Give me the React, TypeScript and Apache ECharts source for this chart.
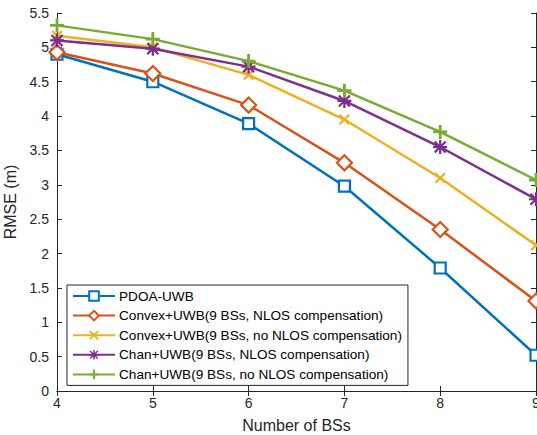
import React, { useEffect, useRef } from "react";
import * as echarts from "echarts";

const bsCounts = [4, 5, 6, 7, 8, 9];
const seriesNames = [
  "PDOA-UWB",
  "Convex+UWB(9 BSs, NLOS compensation)",
  "Convex+UWB(9 BSs, no NLOS compensation)",
  "Chan+UWB(9 BSs, NLOS compensation)",
  "Chan+UWB(9 BSs, no NLOS compensation)",
];
const pdoaUwb = [4.9, 4.5, 3.89, 2.98, 1.79, 0.52];
const convexNlos = [4.93, 4.62, 4.16, 3.32, 2.35, 1.31];
const convexNoNlos = [5.17, 5.0, 4.6, 3.95, 3.1, 2.12];
const chanNlos = [5.1, 4.98, 4.72, 4.22, 3.55, 2.79];
const chanNoNlos = [5.32, 5.12, 4.8, 4.37, 3.77, 3.07];

const colors = ["#0072BD", "#D95319", "#EDB120", "#7E2F8E", "#77AC30"];

const PLUS = "path://M4,0H6V4H10V6H6V10H4V6H0V4H4Z";
const CROSS = "path://M0,1.4L1.4,0L5,3.6L8.6,0L10,1.4L6.4,5L10,8.6L8.6,10L5,6.4L1.4,10L0,8.6L3.6,5Z";
const STAR =
  "path://M4.2,0H5.8V4.2H10V5.8H5.8V10H4.2V5.8H0V4.2H4.2Z M0.5,1.6L1.6,0.5L5,3.9L8.4,0.5L9.5,1.6L6.1,5L9.5,8.4L8.4,9.5L5,6.1L1.6,9.5L0.5,8.4L3.9,5Z";

export default function App() {
  const ref = useRef<HTMLDivElement>(null);
  useEffect(() => {
    if (!ref.current) return;
    const chart = echarts.init(ref.current, null, { renderer: "svg" });
    const allData = [pdoaUwb, convexNlos, convexNoNlos, chanNlos, chanNoNlos];
    const symbols: any[] = ["rect", "diamond", CROSS, STAR, PLUS];
    const sizes = [11, 15, 11, 14, 14];
    const hollow = [true, true, false, false, false];
    const axisColor = "#262626";
    const font = "Liberation Sans, Arial, sans-serif";
    chart.setOption({
      animation: false,
      backgroundColor: "#fff",
      textStyle: { fontFamily: font },
      grid: { left: 57, right: 1, top: 13, bottom: 44, outerBoundsMode: "none", containLabel: false },
      legend: {
        orient: "vertical",
        left: 67,
        top: 285,
        backgroundColor: "#fff",
        borderColor: axisColor,
        borderWidth: 1,
        borderRadius: 0,
        padding: [4, 6, 4, 5],
        itemGap: 5.6,
        itemWidth: 42,
        itemHeight: 12,
        textStyle: { fontSize: 13.6, color: "#000", fontFamily: font, padding: [0, 0, 0, -1] },
        data: seriesNames,
      },
      xAxis: [
        {
          type: "value",
          min: 4,
          max: 9,
          interval: 1,
          name: "Number of BSs",
          nameLocation: "middle",
          nameGap: 26,
          nameTextStyle: { fontSize: 16, color: axisColor },
          axisLine: { lineStyle: { color: axisColor } },
          axisTick: { inside: true, length: 5, lineStyle: { color: axisColor } },
          axisLabel: { fontSize: 14, color: axisColor, margin: 5 },
          splitLine: { show: false },
        },
        {
          type: "value",
          position: "top",
          min: 4,
          max: 9,
          interval: 1,
          axisLine: { show: true, lineStyle: { color: axisColor } },
          axisTick: { inside: true, length: 5, lineStyle: { color: axisColor } },
          axisLabel: { show: false },
          splitLine: { show: false },
        },
      ],
      yAxis: [
        {
          type: "value",
          min: 0,
          max: 5.5,
          interval: 0.5,
          name: "RMSE (m)",
          nameLocation: "middle",
          nameGap: 33,
          nameTextStyle: { fontSize: 16, color: axisColor },
          axisLine: { show: true, lineStyle: { color: axisColor } },
          axisTick: { show: true, inside: true, length: 5, lineStyle: { color: axisColor } },
          axisLabel: { fontSize: 14, color: axisColor, margin: 8 },
          splitLine: { show: false },
        },
        {
          type: "value",
          position: "right",
          min: 0,
          max: 5.5,
          interval: 0.5,
          axisLine: { show: true, lineStyle: { color: axisColor } },
          axisTick: { show: true, inside: true, length: 5, lineStyle: { color: axisColor } },
          axisLabel: { show: false },
          splitLine: { show: false },
        },
      ],
      series: allData.map((vals, i) => ({
        name: seriesNames[i],
        type: "line",
        xAxisIndex: 0,
        yAxisIndex: 0,
        data: bsCounts.map((x, j) => [x, vals[j]]),
        symbol: symbols[i],
        symbolSize: sizes[i],
        showAllSymbol: true,
        lineStyle: { color: colors[i], width: 2.5 },
        itemStyle: hollow[i]
          ? { color: "#fff", borderColor: colors[i], borderWidth: 2.2, opacity: 1 }
          : { color: colors[i], borderWidth: 0 },
        emphasis: { disabled: true },
        z: 2 + i,
      })),
    });
    return () => chart.dispose();
  }, []);
  return (
    <div
      ref={ref}
      style={{ position: "fixed", left: 0, top: 0, width: 537, height: 435 }}
    />
  );
}
